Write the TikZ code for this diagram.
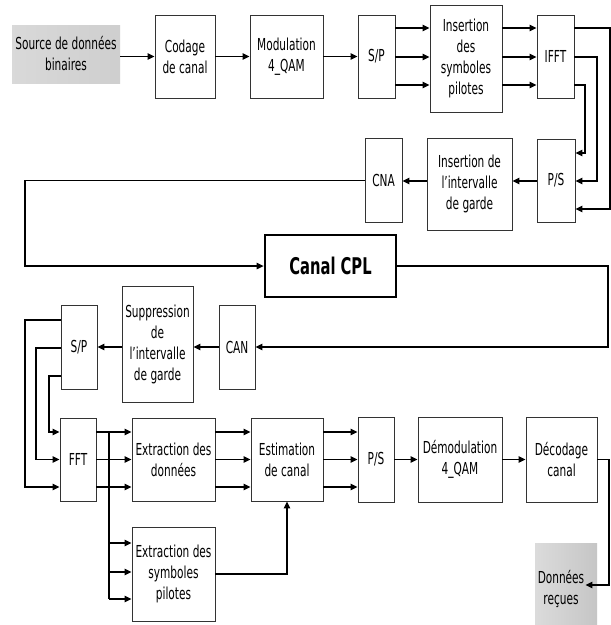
\documentclass[tikz,border=0pt]{standalone}
\usepackage{fontspec}
\setmainfont{DejaVu Sans}[FakeStretch=0.64]
\usetikzlibrary{arrows.meta,calc}
\newcommand{\diafont}{\fontsize{16.5}{21}\selectfont}
\begin{document}
\begin{tikzpicture}[x=1pt,y=-1pt,
  box/.style={draw=black!80, line width=0.9pt, align=center, inner sep=1pt, font=\diafont},
  txt/.style={align=center, inner sep=1pt, font=\diafont},
  arr/.style={line width=1.3pt, -{Triangle[length=7pt,width=6.5pt]}},
  ln/.style={line width=1.3pt}
]
\useasboundingbox (0,0) rectangle (611,625);
\fill[white] (0,0) rectangle (611,625);

% ---- transmitter ----
\node[txt, minimum width=108pt, minimum height=58pt, left color=gray!30, middle color=white, right color=gray!38] (src) at (66,54) {Source de données\\binaires};
\node[box, minimum width=60pt, minimum height=83pt] (cod) at (185,56.5) {Codage\\de canal};
\node[box, minimum width=73pt, minimum height=83pt] (mod) at (286.5,56.5) {Modulation\\4\_QAM};
\node[box, minimum width=37pt, minimum height=83pt] (sp1) at (376.5,56.5) {S/P};
\node[box, minimum width=72pt, minimum height=107pt] (ins) at (466,58.5) {Insertion\\des\\symboles\\pilotes};
\node[box, minimum width=37pt, minimum height=83pt] (ifft) at (555.5,56.5) {IFFT};
\node[box, minimum width=38pt, minimum height=83pt] (ps1) at (556,180.5) {P/S};
\node[box, minimum width=85pt, minimum height=92pt] (ig) at (469.5,184) {Insertion de\\l’intervalle\\de garde};
\node[box, minimum width=37pt, minimum height=84pt] (cna) at (383.5,180.5) {CNA};

% ---- channel ----
\node[draw=black, line width=2.8pt, minimum width=131pt, minimum height=62pt, font=\fontsize{23}{26}\selectfont\bfseries] (canal) at (330.5,266) {Canal CPL};

% ---- receiver ----
\node[box, minimum width=36pt, minimum height=84pt] (can) at (237,347) {CAN};
\node[box, minimum width=71pt, minimum height=116pt] (sup) at (157.5,344) {Suppression\\de\\l’intervalle\\de garde};
\node[box, minimum width=36pt, minimum height=84pt] (sp2) at (79,347) {S/P};
\node[box, minimum width=36pt, minimum height=83pt] (fft) at (78,459.5) {FFT};
\node[box, minimum width=83pt, minimum height=83pt] (exd) at (173.5,459.5) {Extraction des\\données};
\node[box, minimum width=83pt, minimum height=94pt] (exs) at (173.5,574) {Extraction des\\symboles\\pilotes};
\node[box, minimum width=72pt, minimum height=83pt] (est) at (287,459.5) {Estimation\\de canal};
\node[box, minimum width=36pt, minimum height=85pt] (ps2) at (376,459.5) {P/S};
\node[box, minimum width=84pt, minimum height=85pt] (dem) at (460,459.5) {Démodulation\\4\_QAM};
\node[box, minimum width=71pt, minimum height=85pt] (dec) at (561.5,459.5) {Décodage\\canal};
\node[minimum width=62pt, minimum height=82pt, inner sep=0pt, left color=gray!28, middle color=gray!6, right color=gray!45] (donbg) at (566,584) {};
\node[txt] (don) at (561,589) {Données\\reçues};

% ---- connectors, top row ----
\draw[arr] (src.east |- cod.west) -- (cod.west);
\draw[arr] (cod.east) -- (mod.west);
\draw[arr] (mod.east) -- (sp1.west);
\foreach \yy in {28,57,85} {
  \draw[arr] (sp1.east |- 0,\yy) -- (ins.west |- 0,\yy);
  \draw[arr] (ins.east |- 0,\yy) -- (ifft.west |- 0,\yy);
}
\draw[arr] (ifft.east |- 0,28) -- (610,28) -- (610,209) -- (ps1.east |- 0,209);
\draw[arr] (ifft.east |- 0,57) -- (597,57) -- (597,181) -- (ps1.east |- 0,181);
\draw[arr] (ifft.east |- 0,85) -- (585,85) -- (585,153) -- (ps1.east |- 0,153);
\draw[arr] (ps1.west |- 0,181) -- (ig.east |- 0,181);
\draw[arr] (ig.west |- 0,181) -- (cna.east |- 0,181);
\draw[arr] (cna.west) -- (25,180.5) -- (25,266) -- (canal.west);

% ---- receiver connectors ----
\draw[arr] (canal.east) -- (608,266) -- (608,347) -- (can.east);
\draw[arr] (can.west) -- (sup.east |- can.west);
\draw[arr] (sup.west |- sp2.east) -- (sp2.east);
\draw[arr] (sp2.west |- 0,320) -- (25,320) -- (25,487) -- (fft.west |- 0,487);
\draw[arr] (sp2.west |- 0,348) -- (36,348) -- (36,459.5) -- (fft.west |- 0,459.5);
\draw[arr] (sp2.west |- 0,376) -- (49,376) -- (49,432) -- (fft.west |- 0,432);
\foreach \yy in {432,459.5,487} {
  \draw[arr] (fft.east |- 0,\yy) -- (exd.west |- 0,\yy);
  \draw[arr] (exd.east |- 0,\yy) -- (est.west |- 0,\yy);
  \draw[arr] (est.east |- 0,\yy) -- (ps2.west |- 0,\yy);
}
\coordinate (br) at (109,432);
\draw[ln] (br) -- (109,599);
\foreach \yy in {543,572,599} {
  \draw[arr] (109,\yy) -- (exs.west |- 0,\yy);
}
\draw[arr] (exs.east) -- (est.south |- exs.east) -- (est.south);
\draw[arr] (ps2.east) -- (dem.west);
\draw[arr] (dem.east) -- (dec.west);
\draw[arr] (dec.east) -- (609,459.5) -- (609,585) -- (don.east |- 0,585);
\end{tikzpicture}
\end{document}
